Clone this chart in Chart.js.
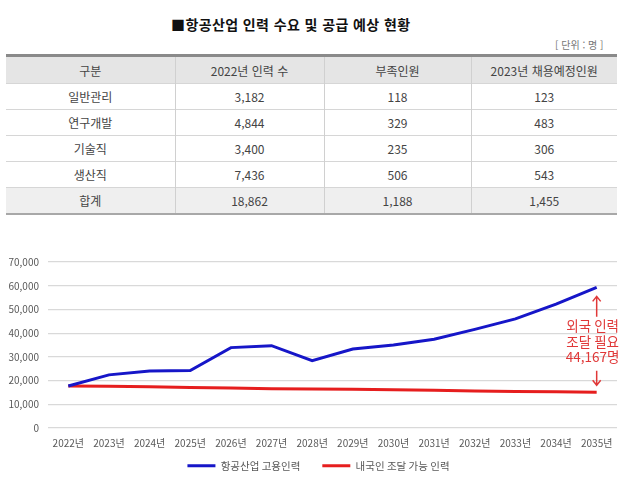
<!DOCTYPE html>
<html lang="ko">
<head>
<meta charset="utf-8">
<script src="https://cdn.jsdelivr.net/npm/chart.js@4.4.1/dist/chart.umd.min.js"></script>
<style>
  html, body { margin: 0; padding: 0; background: #fff; }
  body { width: 639px; height: 480px; position: relative; overflow: hidden;
         font-family: 'Noto Sans CJK KR', 'Noto Sans', sans-serif; color: #444; }
  .title { position: absolute; top: 14px; left: 171px; font-size: 14px; font-weight: 700; color: #111; letter-spacing: 0.4px; }
  .unit { position: absolute; top: 37px; left: 555px; font-size: 10px; color: #777; }
  table { position: absolute; top: 54px; left: 6px; width: 611px; border-collapse: collapse;
          font-size: 12px; color: #444; table-layout: fixed; }
  thead tr { border-top: 3px solid #8a8a8a; }
  th { font-weight: 400; background: #e5e5e5; height: 26px; padding: 0; }
  td { height: 25px; padding: 0; text-align: center; border-top: 1px solid #d6d6d6; }
  th + th, td + td { border-left: 1px solid #d0d0d0; }
  tr.sum td { background: #efefef; }
  tbody tr:last-child { border-bottom: 2px solid #a8a8a8; }
  .chart-box { position: absolute; top: 250px; left: 0; width: 639px; height: 230px; }
</style>
</head>
<body>
<div class="title">■항공산업 인력 수요 및 공급 예상 현황</div>
<div class="unit">[ 단위 : 명 ]</div>
<table id="tbl">
  <colgroup><col style="width:169px"><col style="width:149px"><col style="width:147px"><col style="width:146px"></colgroup>
  <thead><tr id="thead"></tr></thead>
  <tbody id="tbody"></tbody>
</table>
<div class="chart-box"><canvas id="chartLine"></canvas></div>

<script>
// ─── TABLE DATA ───────────────────────────────────────────
const tableHeader = ['구분', '2022년 인력 수', '부족인원', '2023년 채용예정인원'];
const rowNames    = ['일반관리', '연구개발', '기술직', '생산직', '합계'];
const staff2022   = ['3,182', '4,844', '3,400', '7,436', '18,862'];
const shortage    = ['118', '329', '235', '506', '1,188'];
const hire2023    = ['123', '483', '306', '543', '1,455'];

// ─── CHART DATA ───────────────────────────────────────────
const years    = ['2022년', '2023년', '2024년', '2025년', '2026년', '2027년', '2028년',
                  '2029년', '2030년', '2031년', '2032년', '2033년', '2034년', '2035년'];
const demand   = [17700, 22400, 24000, 24200, 33900, 34700, 28400,
                  33300, 35000, 37400, 41600, 46000, 52200, 59300];
const domestic = [17700, 17600, 17400, 17100, 16900, 16600, 16400,
                  16300, 16100, 15900, 15600, 15400, 15300, 15100];
const noteLines = ['외국 인력', '조달 필요', '44,167명'];

const BLUE = '#1616c8';
const RED  = '#e61e1e';
const NOTE = '#e03838';

// ─── TABLE ────────────────────────────────────────────────
document.getElementById('thead').innerHTML = tableHeader.map(h => `<th>${h}</th>`).join('');
const tbody = document.getElementById('tbody');
rowNames.forEach((name, i) => {
    const cls = i === rowNames.length - 1 ? ' class="sum"' : '';
    tbody.insertAdjacentHTML('beforeend',
        `<tr${cls}><td>${name}</td><td>${staff2022[i]}</td><td>${shortage[i]}</td><td>${hire2023[i]}</td></tr>`);
});

// ─── NOTE PLUGIN (red text + arrows) ──────────────────────
const notePlugin = {
    id: 'note',
    afterDatasetsDraw(chart) {
        const { ctx, scales: { x, y } } = chart;
        const last = years.length - 1;
        const px = x.getPixelForValue(last);
        const yTop = y.getPixelForValue(demand[last]);
        const yBot = y.getPixelForValue(domestic[last]);
        const mid = (yTop + yBot) / 2 + 2;
        ctx.save();
        ctx.fillStyle = NOTE;
        ctx.strokeStyle = NOTE;
        ctx.font = "13.5px 'Noto Sans CJK KR'";
        ctx.textAlign = 'center';
        ctx.textBaseline = 'middle';
        noteLines.forEach((t, i) => ctx.fillText(t, px - 4, mid + (i - 1) * 15.5));
        ctx.lineWidth = 1.5;
        const arrow = (y0, y1) => {
            const dir = y1 < y0 ? -1 : 1;
            ctx.beginPath();
            ctx.moveTo(px, y0); ctx.lineTo(px, y1);
            ctx.moveTo(px - 4, y1 - dir * 5); ctx.lineTo(px, y1); ctx.lineTo(px + 4, y1 - dir * 5);
            ctx.stroke();
        };
        arrow(mid - 25, yTop + 9);
        arrow(mid + 29, yBot - 7);
        ctx.restore();
    }
};

// legend keeps wide gaps between items but reserves little height
const LEGEND_H = 22;
const legendFit = {
    id: 'legendFit',
    beforeInit(chart) {
        const fit = chart.legend.fit;
        chart.legend.fit = function () { fit.call(this); this.height = LEGEND_H; };
    },
    afterLayout(chart) {
        const lg = chart.legend;
        const p = lg.options.labels.padding;
        lg.top = chart.height - 14 - p - 5.5;
        lg.bottom = lg.top + 2 * p + 11;
        lg.left += 10;
        lg.right += 10;
    }
};

// ─── CHART ────────────────────────────────────────────────
Chart.defaults.font.family = "'Noto Sans CJK KR', 'Noto Sans', sans-serif";
Chart.defaults.color = '#595959';

new Chart(document.getElementById('chartLine'), {
    type: 'line',
    data: {
        labels: years,
        datasets: [
            { label: '항공산업 고용인력', data: demand, borderColor: BLUE, backgroundColor: BLUE,
              borderWidth: 3, pointRadius: 0, tension: 0 },
            { label: '내국인 조달 가능 인력', data: domestic, borderColor: RED, backgroundColor: RED,
              borderWidth: 3, pointRadius: 0, tension: 0 },
        ],
    },
    options: {
        responsive: true,
        maintainAspectRatio: false,
        animation: false,
        layout: { padding: { top: 0, right: 22, left: 0, bottom: 0 } },
        plugins: {
            legend: {
                position: 'bottom',
                labels: { usePointStyle: true, pointStyle: 'line', pointStyleWidth: 28,
                          padding: 22, font: { size: 10.5 }, color: '#595959' },
            },
            tooltip: { enabled: false },
        },
        scales: {
            x: {
                offset: true,
                grid: { display: false, drawTicks: false },
                border: { display: false },
                ticks: { font: { size: 10 }, padding: 9, maxRotation: 0, autoSkip: false },
            },
            y: {
                min: 0, max: 70000,
                afterFit: (s) => { s.width = 48; s.paddingTop = 12; s.paddingBottom = 6; },
                grid: { color: '#d9d9d9', lineWidth: 1.2, drawTicks: false },
                border: { display: false },
                ticks: { stepSize: 10000, font: { size: 10 }, padding: 9,
                         callback: (v) => v.toLocaleString('en-US') },
            },
        },
    },
    plugins: [notePlugin, legendFit],
});
</script>
</body>
</html>
